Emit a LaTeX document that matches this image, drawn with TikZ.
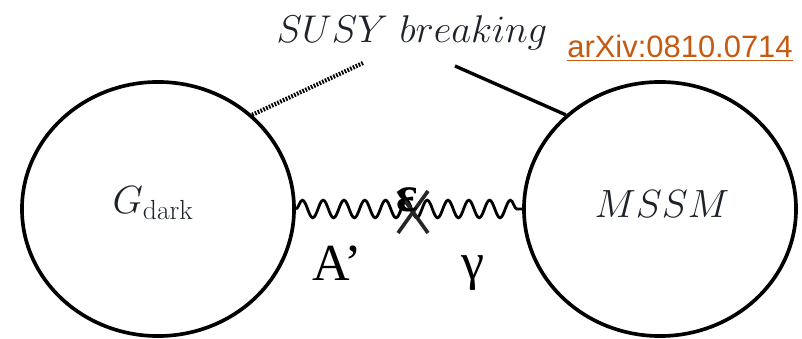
\RequirePackage{fix-cm}
\documentclass[tikz,border=0pt]{standalone}
\usepackage{xcolor}
\usepackage{fontspec}
\usepackage{tikz}
\usetikzlibrary{shapes.geometric,decorations.pathmorphing}
\newfontfamily\fieldfont{Liberation Serif}
\newfontfamily\linkfont{Liberation Sans}
\definecolor{linkorange}{HTML}{C55A11}
\definecolor{labelgrey}{HTML}{1E222A}

\begin{document}
\begin{tikzpicture}[x=0.025cm, y=-0.025cm,
  every node/.style={align=center},
  sector/.style={ellipse, draw, line width=2.6pt, minimum width=6.8cm, minimum height=6.35cm, inner sep=0pt},
  photon/.style={line width=2pt, decorate, decoration={snake, segment length=0.52cm, amplitude=0.22cm}},
  mix/.style={line width=2.6pt, black!85}
]
\useasboundingbox (0,0) rectangle (802,339);

\node[sector] (dark) at (158,209) {};
\node[sector] (mssm) at (660,209) {};

\node[text=labelgrey, font=\fontsize{28}{32}\selectfont] (darklbl) at (153,203) {$G_{\mathrm{dark}}$};
\node[text=labelgrey, font=\fontsize{28}{32}\selectfont] (mssmlbl) at (662,204) {$MSSM$};
\node[text=labelgrey, font=\fontsize{27.5}{32}\selectfont, anchor=base] (susy) at (412,43) {$SUSY\ breaking$};
\node[text=linkorange, font=\linkfont\fontsize{22}{26}\selectfont, anchor=base] (link) at (680,58) {\underline{arXiv:0810.0714}};

% free ends of the two breaking lines
\coordinate (dotend) at (363,63);
\coordinate (lineend) at (455,66);
\draw[line width=3pt, dash pattern=on 1.2pt off 1pt] (dark.45) -- (dotend);
\draw[line width=2.4pt] (mssm.135) -- (lineend);

% kinetic mixing
\coordinate (cross) at (413,212);
\draw[photon] (dark.east) -- (mssm.west);
\draw[mix] (cross) +(-15,-21) -- +(15,21);
\draw[mix] (cross) +(15,-21) -- +(-15,21);

\node[font=\fieldfont\bfseries\fontsize{36}{40}\selectfont, anchor=base] (eps) at (407,212) {ε};
\node[font=\fieldfont\fontsize{37}{40}\selectfont, anchor=base] (aprime) at (337,281) {A’};
\node[font=\fieldfont\fontsize{37}{40}\selectfont, anchor=base] (gamma) at (473,280) {γ};

\end{tikzpicture}
\end{document}
